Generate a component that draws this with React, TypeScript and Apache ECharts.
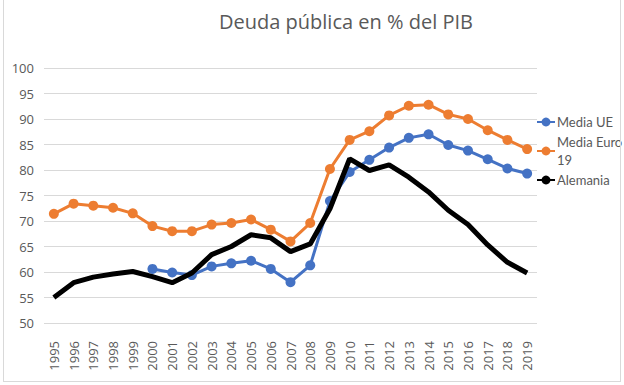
import React, { useEffect, useRef } from "react";
import * as echarts from "echarts";

const years = ["1995","1996","1997","1998","1999","2000","2001","2002","2003","2004","2005","2006","2007","2008","2009","2010","2011","2012","2013","2014","2015","2016","2017","2018","2019"];
const mediaUE = [null,null,null,null,null,60.6,59.9,59.4,61.1,61.7,62.2,60.6,58.0,61.3,73.9,79.6,82.0,84.4,86.3,87.0,84.9,83.8,82.1,80.3,79.3];
const mediaEuro19 = [71.4,73.4,73.0,72.6,71.5,69.0,68.0,68.0,69.3,69.6,70.3,68.3,66.0,69.6,80.2,85.9,87.6,90.7,92.6,92.8,90.9,90.0,87.8,85.9,84.1];
const alemania = [55.0,57.9,59.0,59.6,60.1,59.1,57.9,59.8,63.4,65.0,67.3,66.7,64.0,65.5,72.4,82.2,79.9,81.0,78.6,75.7,72.1,69.3,65.3,61.9,59.8];

const FONT = "'Open Sans', 'Noto Sans', sans-serif";
const LFONT = "Lato, 'Noto Sans', sans-serif";
const GRAY = "#595959";

export default function App() {
  const ref = useRef<HTMLDivElement>(null);
  useEffect(() => {
    document.body.style.margin = "0";
    const chart = echarts.init(ref.current!, undefined, { renderer: "svg" });
    chart.setOption({
      animation: false,
      textStyle: { fontFamily: FONT },
      title: {
        text: "Deuda pública en % del PIB",
        left: 214,
        top: 6,
        textStyle: { fontFamily: FONT, fontSize: 20, fontWeight: "normal", color: GRAY },
      },
      legend: {
        orient: "vertical",
        left: 536,
        top: 113,
        padding: 0,
        itemWidth: 18,
        itemHeight: 11,
        itemGap: 2,
        data: ["Media UE", "Media Euro 19", "Alemania"],
        formatter: (n: string) => (n === "Media Euro 19" ? "Media Euro\n19" : n),
        textStyle: { fontFamily: LFONT, fontSize: 13, color: GRAY, lineHeight: 18, padding: [0, 0, 0, -3] },
      },
      grid: { left: 44, right: 87, top: 68, bottom: 62 },
      xAxis: {
        type: "category",
        data: years,
        boundaryGap: true,
        axisLine: { show: false },
        axisTick: { show: false },
        axisLabel: { rotate: 90, interval: 0, color: GRAY, fontSize: 13, margin: 18, fontFamily: FONT },
      },
      yAxis: {
        type: "value",
        min: 50,
        max: 100,
        interval: 5,
        axisLine: { show: false },
        axisTick: { show: false },
        axisLabel: { color: GRAY, fontSize: 13, margin: 10, fontFamily: FONT },
        splitLine: { lineStyle: { color: "#d9d9d9", width: 1 } },
      },
      series: [
        {
          name: "Media UE",
          type: "line",
          data: mediaUE,
          symbol: "circle",
          symbolSize: 10,
          itemStyle: { color: "#4472C4" },
          lineStyle: { color: "#4472C4", width: 3 },
          z: 3,
        },
        {
          name: "Media Euro 19",
          type: "line",
          data: mediaEuro19,
          symbol: "circle",
          symbolSize: 10,
          itemStyle: { color: "#ED7D31" },
          lineStyle: { color: "#ED7D31", width: 3 },
          z: 2,
        },
        {
          name: "Alemania",
          type: "line",
          data: alemania,
          showSymbol: false,
          symbol: "none",
          itemStyle: { color: "#000000" },
          lineStyle: { color: "#000000", width: 5 },
          z: 4,
        },
      ],
    });
    return () => chart.dispose();
  }, []);
  return (
    <div style={{ position: "relative", width: 624, height: 385, background: "#fff", overflow: "hidden" }}>
      <div ref={ref} style={{ position: "absolute", left: 0, top: 0, width: 624, height: 385 }} />
      <div style={{ position: "absolute", left: 3, top: -2, width: 616, height: 382, border: "1px solid #d9d9d9", pointerEvents: "none" }} />
    </div>
  );
}
